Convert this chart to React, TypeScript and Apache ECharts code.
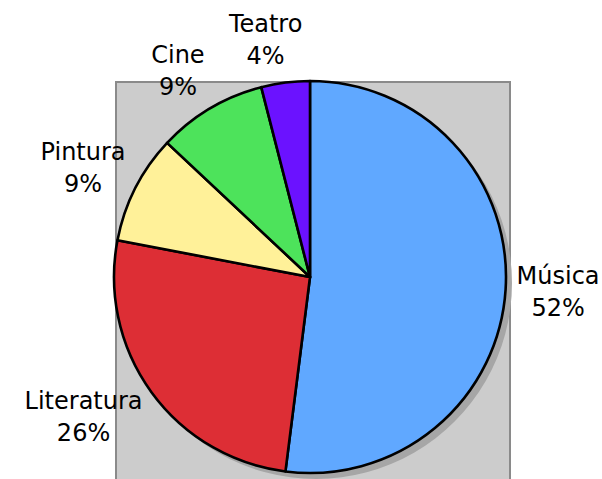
import React, { useEffect, useRef } from "react";
import * as echarts from "echarts";

const categories = ["Música", "Literatura", "Pintura", "Cine", "Teatro"];
const values = [52, 26, 9, 9, 4];
const colors = ["#60a8ff", "#dd2e35", "#fff199", "#4de35b", "#6b12ff"];

const CX = 310;
const CY = 277;
const R = 196;
const GAP = 11;

export default function App() {
  const ref = useRef<HTMLDivElement>(null);
  useEffect(() => {
    if (!ref.current) return;
    const chart = echarts.init(ref.current, null, { renderer: "svg" });
    const total = values.reduce((a, b) => a + b, 0);
    const data = categories.map((name, i) => ({
      name,
      value: values[i],
      itemStyle: { color: colors[i] },
    }));
    chart.setOption({
      animation: false,
      backgroundColor: "#ffffff",
      graphic: [
        {
          type: "rect",
          z: 0,
          shape: { x: 116, y: 82, width: 394, height: 420 },
          style: { fill: "#cccccc", stroke: "#8a8a8a", lineWidth: 2 },
        },
      ],
      series: [
        {
          type: "pie",
          z: 1,
          silent: true,
          center: [CX + 6, CY + 6],
          radius: R,
          label: { show: false },
          labelLine: { show: false },
          itemStyle: { color: "#a6a6a6", borderWidth: 0 },
          data: [{ name: "shadow", value: total }],
        },
        {
          type: "pie",
          z: 2,
          center: [CX, CY],
          radius: R,
          startAngle: 90,
          clockwise: true,
          itemStyle: { borderColor: "#000000", borderWidth: 2.6 },
          label: {
            show: true,
            position: "outside",
            overflow: "none",
            formatter: (p: any) => `${p.name}\n${Math.round(p.percent)}%`,
            fontFamily: "DejaVu Sans",
            fontSize: 24,
            lineHeight: 32,
            color: "#000000",
          },
          labelLine: { show: false },
          labelLayout: (params: any) => {
            const i = params.dataIndex;
            let acc = 0;
            for (let k = 0; k < i; k++) acc += values[k];
            const mid = ((acc + values[i] / 2) / total) * Math.PI * 2;
            const dx = Math.sin(mid);
            const dy = -Math.cos(mid);
            const w = params.labelRect.width;
            const h = params.labelRect.height;
            const fx = Math.max(-1, Math.min(1, dx * 4));
            return {
              x: CX + (R + GAP) * dx + (fx * w) / 2,
              y: CY + (R + GAP) * dy + (dy * h) / 2,
              align: "center",
              verticalAlign: "middle",
            };
          },
          data,
        },
      ],
    });
    return () => chart.dispose();
  }, []);
  return (
    <div
      ref={ref}
      style={{ position: "fixed", left: 0, top: 0, width: 602, height: 479 }}
    />
  );
}
